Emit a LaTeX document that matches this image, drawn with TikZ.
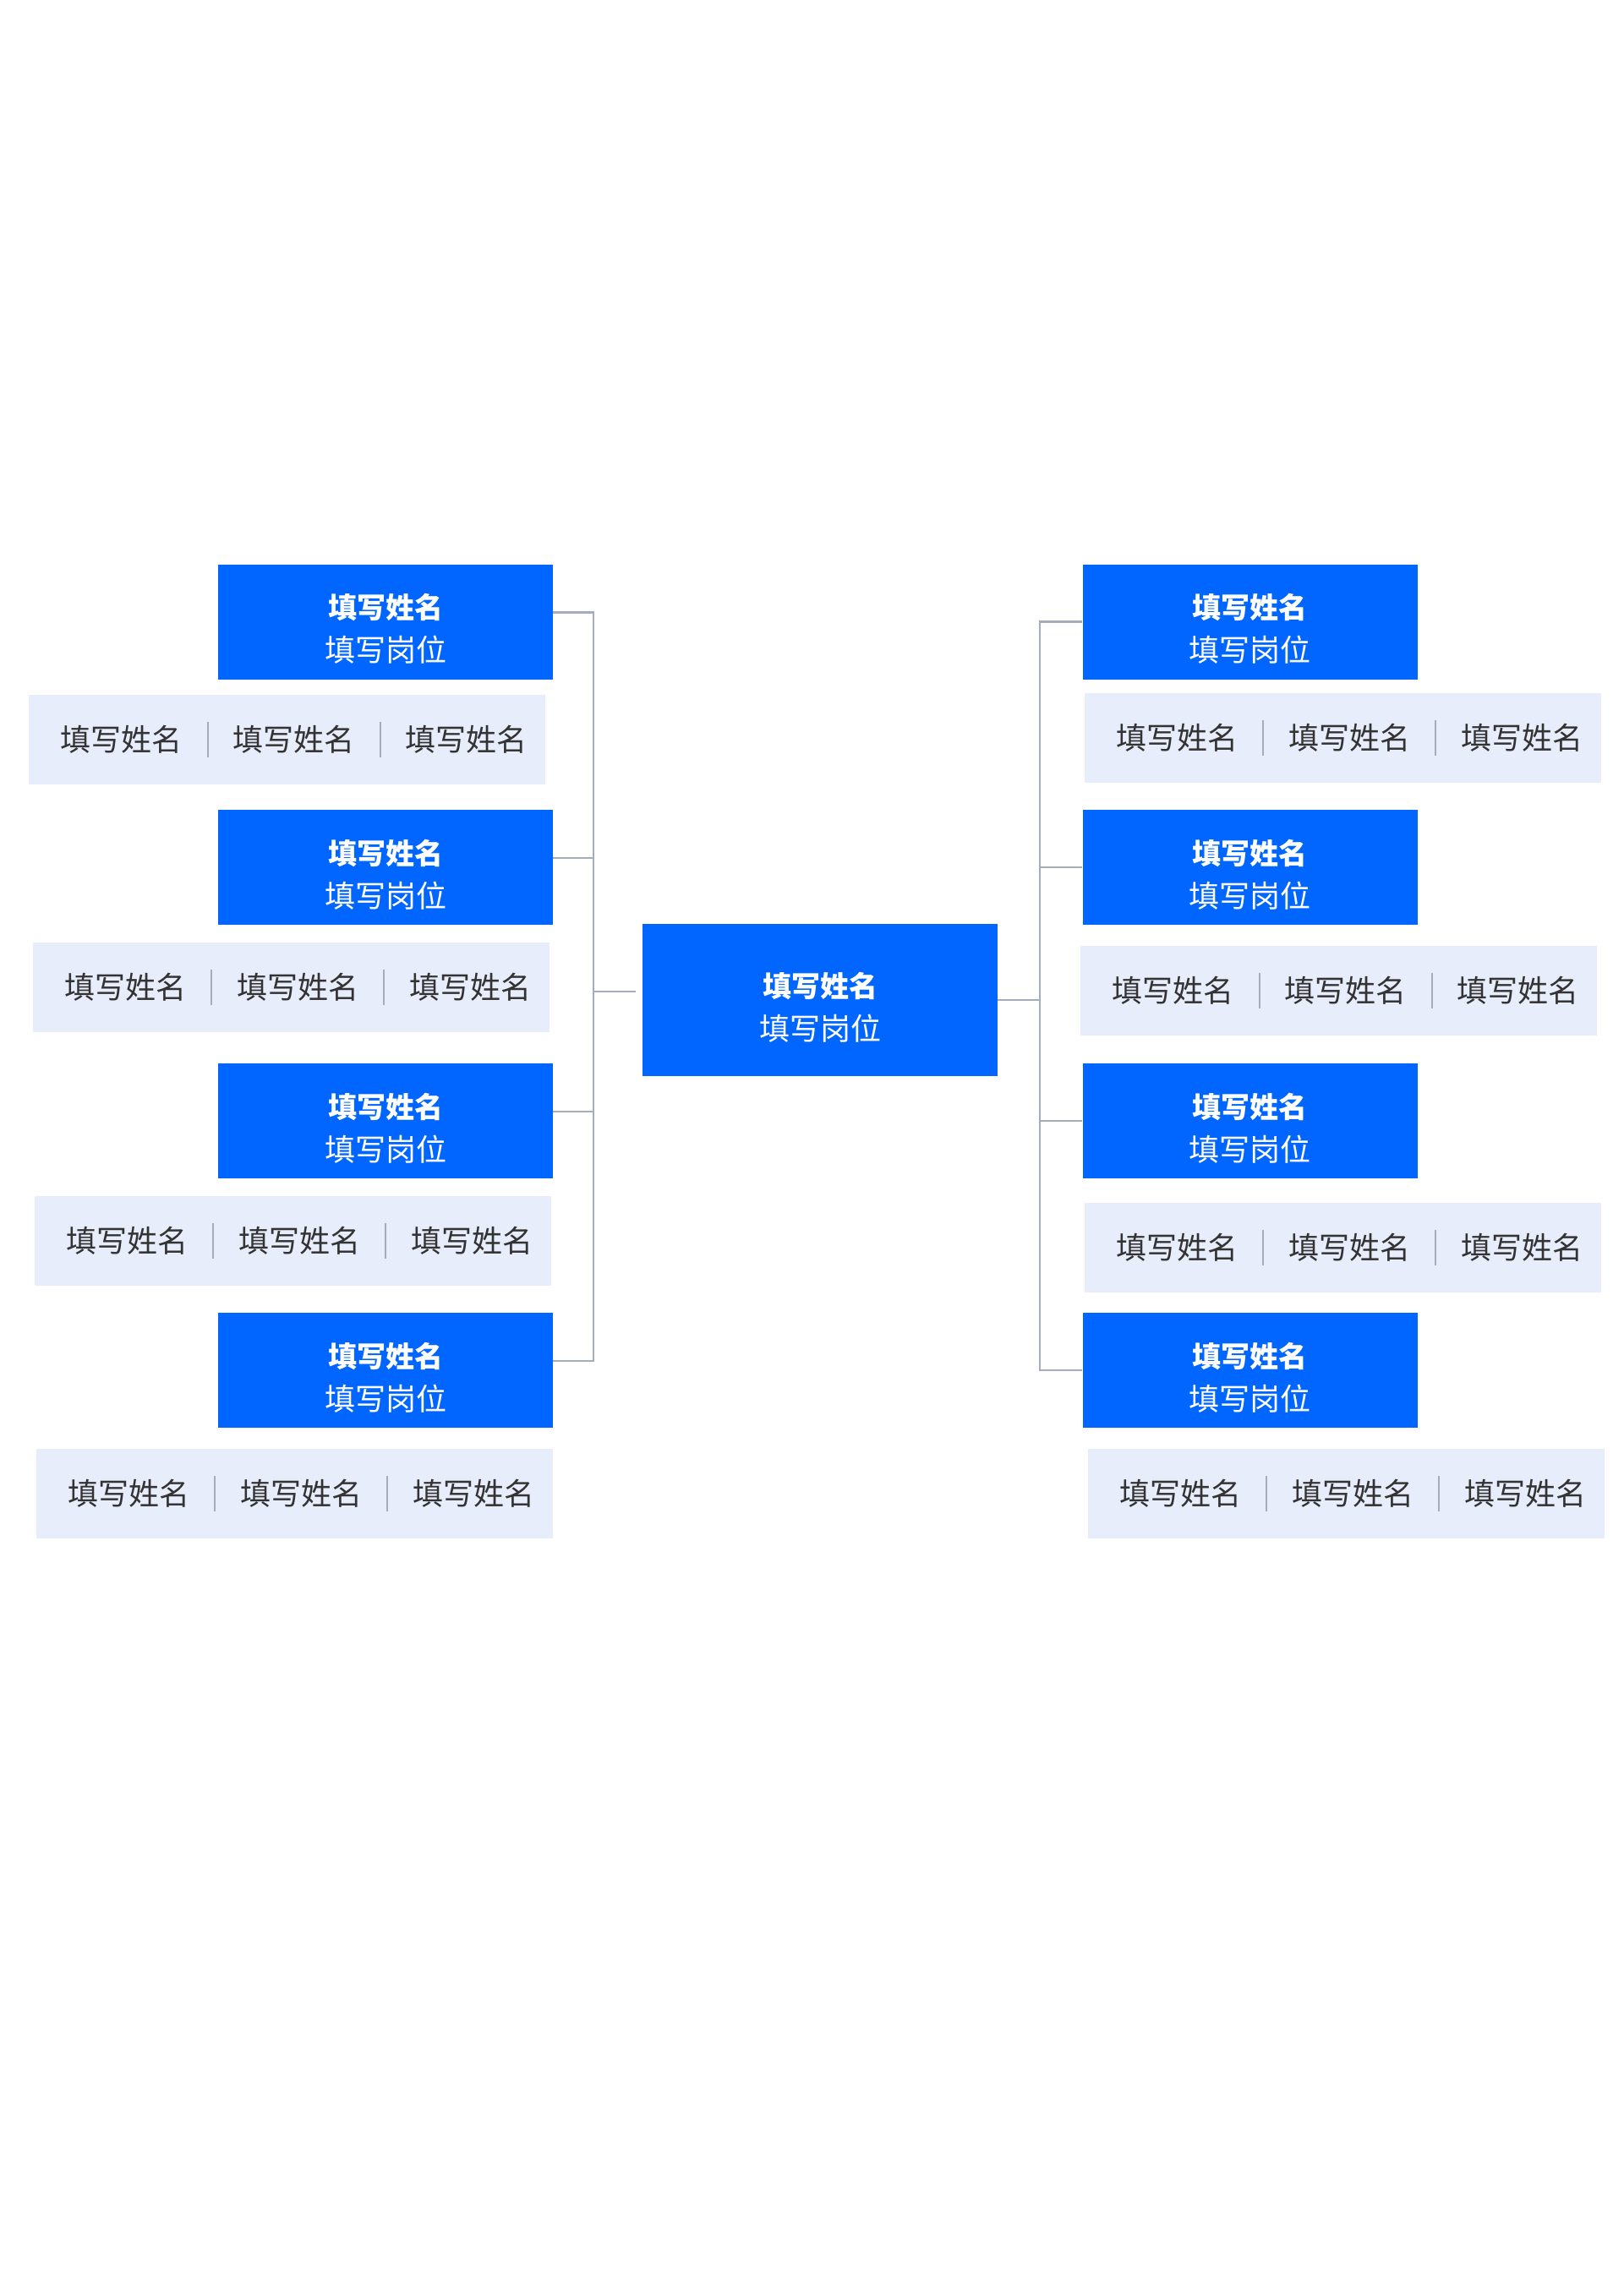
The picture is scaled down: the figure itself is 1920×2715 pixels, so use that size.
\documentclass[tikz,border=0pt]{standalone}
\usepackage{fontspec}
\usetikzlibrary{calc}
\newfontfamily\cjk{Noto Sans CJK SC}
\definecolor{mainblue}{HTML}{0066FF}
\definecolor{rowfill}{HTML}{E8EDFC}
\definecolor{linkgray}{HTML}{A5ADBA}
\definecolor{namegray}{HTML}{333333}

\newcommand{\leadertext}{{\fontsize{34}{51}\selectfont\bfseries\rule{0pt}{46pt}填写姓名}\\填写岗位}

\begin{document}
\begin{tikzpicture}[x=1pt,y=-1pt]
  \tikzset{leader/.style     = {fill          = mainblue,
                                text          = white,
                                inner sep     = 0pt,
                                minimum width = 396pt,
                                minimum height= 136pt,
                                align         = center,
                                font          = \cjk\fontsize{36}{51}\selectfont},
           member/.style     = {fill          = rowfill,
                                inner sep     = 0pt,
                                minimum width = 611pt,
                                minimum height= 106pt},
           membername/.style = {text      = namegray,
                                inner sep = 0pt,
                                font      = \cjk\fontsize{36}{42}\selectfont},
           link/.style       = {draw=linkgray, line width=2.5pt},
           divider/.style    = {draw=linkgray, line width=2pt}}
  \useasboundingbox[fill=white] (0,0) rectangle (1920,2715);
  % centre
  \node[leader, minimum width=420pt, minimum height=180pt] (chief) at (970,1183) {\leadertext};
  % les deux colonnes
  \foreach \i/\y in {1/735.5, 2/1026, 3/1326, 4/1621}{
     \node[leader] (lb\i) at (456,\y)    {\leadertext};
     \node[leader] (rb\i) at (1478.5,\y) {\leadertext};
  }
  % rangées des membres
  \foreach \s/\i/\x/\y in {l/1/339.6/875, l/2/344/1168, l/3/346/1468, l/4/348/1767,
                          r/1/1588/873, r/2/1583.5/1172, r/3/1588/1476, r/4/1592/1767}{
     \node[member] (\s row\i) at (\x,\y) {};
     \foreach \k/\dx in {1/110, 2/314, 3/518}
        \node[membername] (\s row\i n\k) at ([xshift=\dx pt]\s row\i.west) {填写姓名};
     \draw[divider] ($(\s row\i n1)!.5!(\s row\i n2)$) ++(0,-21) -- ++(0,42);
     \draw[divider] ($(\s row\i n2)!.5!(\s row\i n3)$) ++(0,-21) -- ++(0,42);
  }
  % liaisons
  \coordinate (lbus) at (702,1173);
  \coordinate (lend) at (752,1173);
  \coordinate (rbus) at (1230,1183);
  \foreach \i in {1,...,4}{
     \draw[link] ([yshift=11pt]lb\i.east) -| (lbus);
     \draw[link] (rb\i.west) -| (rbus);
  }
  \draw[link] (lbus) -- (lend);
  \draw[link] (chief.east) -- (rbus);
\end{tikzpicture}
\end{document}
